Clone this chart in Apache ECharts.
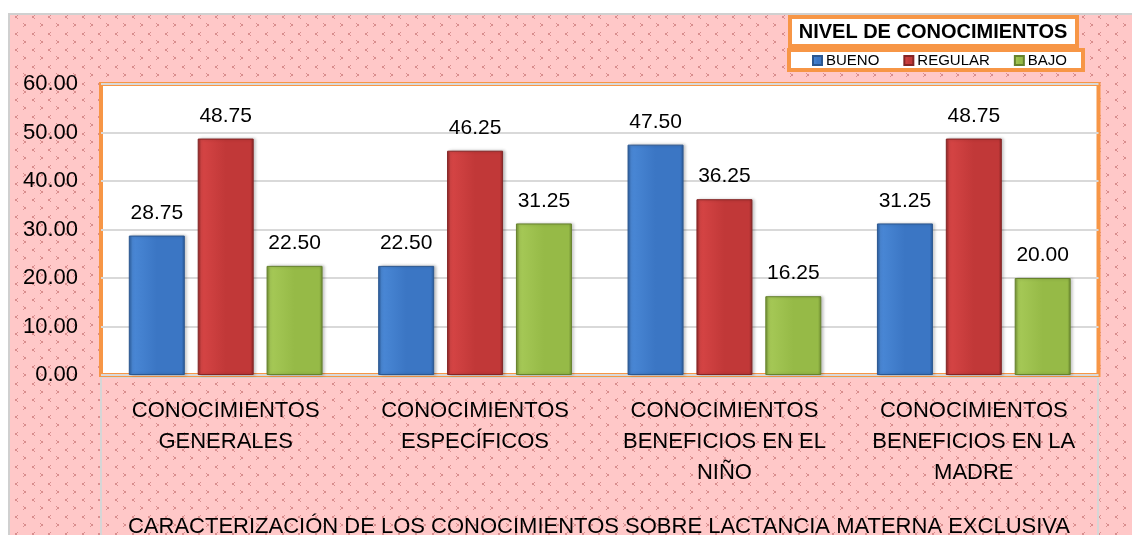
<!DOCTYPE html>
<html>
<head>
<meta charset="utf-8">
<script src="https://cdn.jsdelivr.net/npm/echarts@6/dist/echarts.min.js"></script>
<style>
  html, body { margin: 0; padding: 0; background: #fff; }
  #chart { width: 1132px; height: 535px; }
</style>
</head>
<body>
<div id="chart"></div>
<script>
const categories = [
  'CONOCIMIENTOS\nGENERALES',
  'CONOCIMIENTOS\nESPECÍFICOS',
  'CONOCIMIENTOS\nBENEFICIOS EN EL\nNIÑO',
  'CONOCIMIENTOS\nBENEFICIOS EN LA\nMADRE'
];
const seriesNames = ['BUENO', 'REGULAR', 'BAJO'];
const bueno = [28.75, 22.50, 47.50, 31.25];
const regular = [48.75, 46.25, 36.25, 48.75];
const bajo = [22.50, 31.25, 16.25, 20.00];
const yMin = 0;
const yMax = 60;
const yStep = 10;
const legendTitle = 'NIVEL DE CONOCIMIENTOS';
const chartTitle = 'CARACTERIZACIÓN DE LOS CONOCIMIENTOS SOBRE LACTANCIA MATERNA EXCLUSIVA';

const FONT = '"Liberation Sans", Arial, sans-serif';
const ORANGE = '#f79646';

// pink tile with little chevrons, like the office "pattern fill"
const makeTile = () => {
  const c = document.createElement('canvas');
  c.width = 50; c.height = 50;
  const ctx = c.getContext('2d');
  ctx.fillStyle = '#ffc8c8';
  ctx.fillRect(0, 0, 50, 50);
  ctx.fillStyle = '#d98e8e';
  const lt = (x, y) => {
    ctx.fillRect(x + 2, y, 1, 1);
    ctx.fillRect(x, y + 1, 2, 2);
    ctx.fillRect(x + 2, y + 3, 1, 1);
  };
  const gt = (x, y) => {
    ctx.fillRect(x, y, 1, 1);
    ctx.fillRect(x + 1, y + 1, 2, 2);
    ctx.fillRect(x, y + 3, 1, 1);
  };
  [-2, 15, 32, 48].forEach(x => [-2, 15, 32, 48].forEach(y => lt(x, y)));
  [6, 23, 40].forEach(x => [6, 23, 40].forEach(y => gt(x, y)));
  return c;
};

const barColor = (light, main, dark) => ({
  type: 'linear', x: 0, y: 0, x2: 1, y2: 0,
  colorStops: [
    { offset: 0, color: dark },
    { offset: 0.06, color: light },
    { offset: 0.5, color: main },
    { offset: 0.94, color: main },
    { offset: 1, color: dark }
  ]
});

const colors = [
  barColor('#4a88d6', '#3b76c4', '#2a5a98'),
  barColor('#d64545', '#c13838', '#8a2626'),
  barColor('#a6c957', '#96ba47', '#6c8a30')
];
const borders = ['#2b5790', '#842525', '#66822d'];

const labelFmt = p => p.value.toFixed(2);

const makeSeries = (name, data, i) => ({
  name,
  type: 'bar',
  data,
  barWidth: 56,
  barGap: '23%',
  itemStyle: {
    color: colors[i],
    borderColor: borders[i],
    borderWidth: 1,
    shadowColor: 'rgba(0,0,0,0.25)',
    shadowBlur: 3,
    shadowOffsetX: 2
  },
  label: {
    show: true,
    position: 'top',
    distance: 12,
    formatter: labelFmt,
    fontFamily: FONT,
    fontSize: 21,
    color: '#000'
  }
});

const chart = echarts.init(document.getElementById('chart'));
const option = {
  backgroundColor: '#fff',
  animation: false,
  color: colors,
  graphic: [
    {
      type: 'rect', z: -10,
      shape: { x: 9, y: 14, width: 1140, height: 540 },
      style: { fill: { image: makeTile(), repeat: 'repeat' }, stroke: '#d0d0d0', lineWidth: 2 }
    },
    {
      type: 'rect', z: -9,
      shape: { x: 101, y: 377, width: 997, height: 170 },
      style: { fill: 'none', stroke: '#d6d6d6', lineWidth: 2 }
    },
    {
      type: 'rect',
      shape: { x: 790, y: 17, width: 287, height: 29 },
      style: { fill: '#fff', stroke: ORANGE, lineWidth: 4 }
    },
    {
      type: 'text',
      x: 933, y: 32,
      style: {
        text: legendTitle, fontFamily: FONT, fontSize: 20, fontWeight: 'bold',
        fill: '#000', align: 'center', verticalAlign: 'middle'
      }
    },
    {
      type: 'rect',
      shape: { x: 789, y: 50, width: 294, height: 20 },
      style: { fill: '#fff', stroke: ORANGE, lineWidth: 4 }
    },
    {
      type: 'text',
      x: 599, y: 527,
      style: {
        text: chartTitle, fontFamily: FONT, fontSize: 22,
        fill: '#000', align: 'center', verticalAlign: 'middle'
      }
    }
  ],
  legend: {
    data: seriesNames,
    left: 812,
    top: 53,
    icon: 'rect',
    itemWidth: 9,
    itemHeight: 9,
    itemGap: 24,
    padding: 0,
    textStyle: { fontFamily: FONT, fontSize: 15, color: '#000', padding: [0, 0, 0, -1] }
  },
  grid: {
    left: 101,
    right: 33.5,
    top: 84,
    bottom: 160,
    show: true,
    backgroundColor: '#fff',
    borderColor: ORANGE,
    borderWidth: 4,
    containLabel: false
  },
  xAxis: {
    type: 'category',
    data: categories,
    axisLine: { show: false },
    axisTick: { show: false },
    axisLabel: {
      fontFamily: FONT,
      fontSize: 22,
      lineHeight: 31,
      color: '#000',
      margin: 20,
      interval: 0
    }
  },
  yAxis: {
    type: 'value',
    min: yMin,
    max: yMax,
    interval: yStep,
    axisLine: { show: false },
    axisTick: { show: false },
    splitLine: { lineStyle: { color: '#d9d9d9', width: 2 } },
    axisLabel: {
      fontFamily: FONT,
      fontSize: 22,
      color: '#000',
      margin: 23,
      formatter: v => v.toFixed(2)
    }
  },
  series: [
    makeSeries(seriesNames[0], bueno, 0),
    makeSeries(seriesNames[1], regular, 1),
    makeSeries(seriesNames[2], bajo, 2)
  ]
};
chart.setOption(option);
</script>
</body>
</html>
